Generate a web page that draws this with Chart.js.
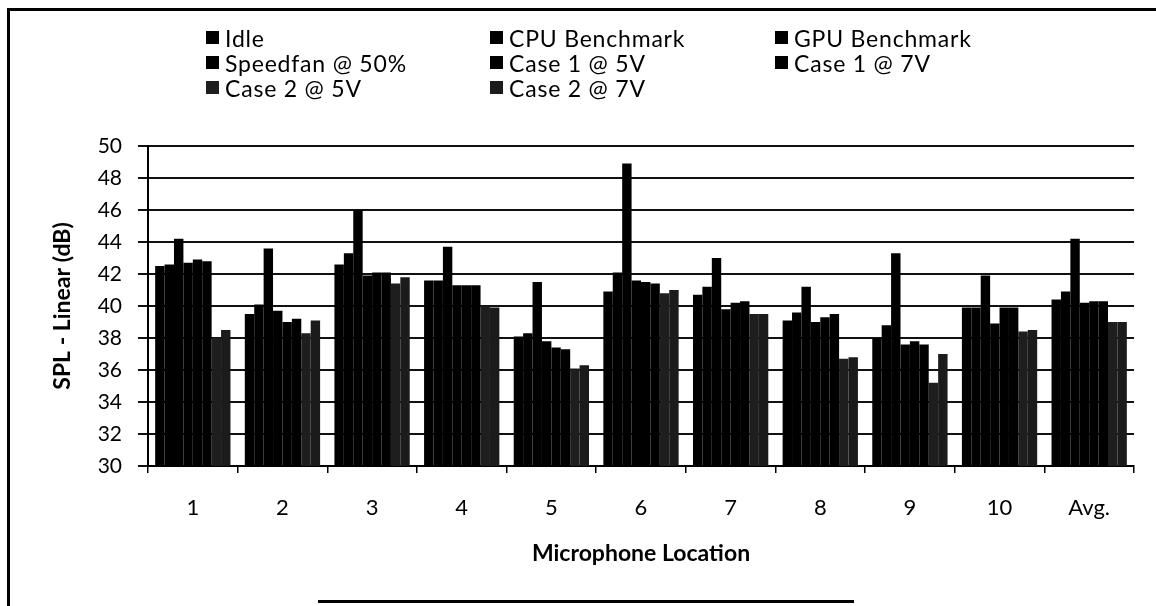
<!DOCTYPE html>
<html>
<head>
<meta charset="utf-8">
<script src="https://cdn.jsdelivr.net/npm/chart.js@4"></script>
<style>
  html, body { margin: 0; padding: 0; background: #fff; }
  #wrap { position: relative; width: 1156px; height: 606px; overflow: hidden; background: #fff; }
  #chart { position: absolute; left: 0; top: 0; }
  #legend { position: absolute; left: 206px; top: 25px; display: grid;
            grid-template-columns: 284px 285px 300px; grid-auto-rows: 25px;
            font-family: Lato, "DejaVu Sans", sans-serif; font-size: 23px; letter-spacing: 0.8px; color: #000; }
  #legend .item { display: flex; align-items: center; white-space: nowrap; }
  #legend .sw { width: 13px; height: 13px; margin-right: 6px; flex: none; }
  .frame { position: absolute; background: #000; }
</style>
</head>
<body>
<div id="wrap">
  <canvas id="chart" width="1156" height="606"></canvas>
  <div id="legend"></div>
  <div class="frame" style="left:7px; top:8px; width:3px; height:598px;"></div>
  <div class="frame" style="left:7px; top:8px; width:1149px; height:3px;"></div>
  <div class="frame" style="left:318px; top:600px; width:536px; height:3px;"></div>
</div>
<script>
const categories = ['1', '2', '3', '4', '5', '6', '7', '8', '9', '10', 'Avg.'];
const seriesNames = ['Idle', 'CPU Benchmark', 'GPU Benchmark', 'Speedfan @ 50%', 'Case 1 @ 5V', 'Case 1 @ 7V', 'Case 2 @ 5V', 'Case 2 @ 7V'];
const idle     = [42.5, 39.5, 42.6, 41.6, 38.1, 40.9, 40.7, 39.1, 38.0, 39.9, 40.4];
const cpu      = [42.6, 40.1, 43.3, 41.6, 38.3, 42.1, 41.2, 39.6, 38.8, 39.9, 40.9];
const gpu      = [44.2, 43.6, 46.0, 43.7, 41.5, 48.9, 43.0, 41.2, 43.3, 41.9, 44.2];
const speedfan = [42.7, 39.7, 41.9, 41.3, 37.8, 41.6, 39.8, 39.0, 37.6, 38.9, 40.2];
const case1at5 = [42.9, 39.0, 42.1, 41.3, 37.4, 41.5, 40.2, 39.3, 37.8, 39.9, 40.3];
const case1at7 = [42.8, 39.2, 42.1, 41.3, 37.3, 41.4, 40.3, 39.5, 37.6, 39.9, 40.3];
const case2at5 = [38.0, 38.3, 41.4, 40.0, 36.1, 40.8, 39.5, 36.7, 35.2, 38.4, 39.0];
const case2at7 = [38.5, 39.1, 41.8, 39.9, 36.3, 41.0, 39.5, 36.8, 37.0, 38.5, 39.0];
const yTicks = [30, 32, 34, 36, 38, 40, 42, 44, 46, 48, 50];

const seriesValues = [idle, cpu, gpu, speedfan, case1at5, case1at7, case2at5, case2at7];
const seriesColors = ['#000', '#000', '#000', '#000', '#000', '#000', '#1e1e1e', '#1b1b1b'];

const FONT = 'Lato, "DejaVu Sans", sans-serif';

const chart = new Chart(document.getElementById('chart'), {
  type: 'bar',
  data: {
    labels: categories,
    datasets: seriesNames.map((n, i) => ({
      label: n,
      data: seriesValues[i],
      backgroundColor: seriesColors[i],
      borderWidth: 0,
      categoryPercentage: 0.84,
      barPercentage: 1.0
    }))
  },
  options: {
    responsive: false,
    animation: false,
    layout: { padding: { left: 8, top: 146, right: 22, bottom: 0 } },
    plugins: { legend: { display: false }, tooltip: { enabled: false } },
    scales: {
      x: {
        afterFit: s => { s.height = 140; },
        grid: { drawOnChartArea: false, drawTicks: true, tickLength: 7, color: '#000', lineWidth: 1.5 },
        border: { display: true, color: '#000', width: 2 },
        ticks: { color: '#000', padding: 22, font: { family: FONT, size: 22 }, maxRotation: 0 },
        title: { display: true, text: 'Microphone Location', color: '#000',
                 font: { family: FONT, size: 23, weight: 'bold' }, padding: { top: 0, bottom: 39 } }
      },
      y: {
        min: 30, max: 50,
        afterFit: s => { s.width = 140; },
        afterBuildTicks: s => { s.ticks = yTicks.map(v => ({ value: v })); },
        grid: { color: '#111', lineWidth: 2, tickLength: 10, drawTicks: true },
        border: { display: true, color: '#000', width: 2 },
        ticks: { color: '#000', padding: 16, font: { family: FONT, size: 21 } },
        title: { display: true, text: 'SPL - Linear (dB)', color: '#000',
                 font: { family: FONT, size: 23, weight: 'bold' }, padding: { top: 41, bottom: 0 } }
      }
    }
  }
});

const legendEl = document.getElementById('legend');
chart.data.datasets.forEach(ds => {
  const item = document.createElement('div');
  item.className = 'item';
  const sw = document.createElement('span');
  sw.className = 'sw';
  sw.style.background = ds.backgroundColor;
  const tx = document.createElement('span');
  tx.textContent = ds.label;
  item.appendChild(sw);
  item.appendChild(tx);
  legendEl.appendChild(item);
});
</script>
</body>
</html>
